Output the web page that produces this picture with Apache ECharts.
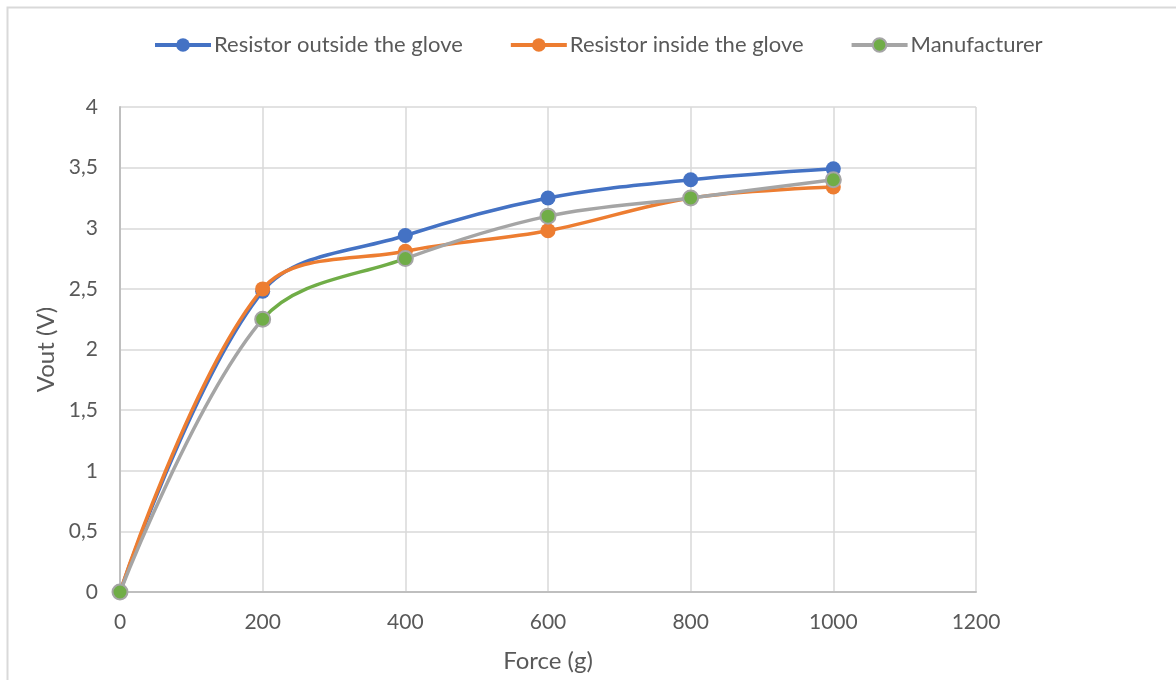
<!DOCTYPE html>
<html><head><meta charset="utf-8">
<script src="https://cdn.jsdelivr.net/npm/echarts@6/dist/echarts.min.js"></script>
<style>html,body{margin:0;padding:0;background:#fff}#c{width:1176px;height:680px}</style>
</head><body><div id="c"></div>
<script>
const forces = [0, 200, 400, 600, 800, 1000];
const outside = [0, 2.48, 2.94, 3.25, 3.40, 3.49];
const inside = [0, 2.50, 2.81, 2.98, 3.25, 3.34];
const manufacturer = [0, 2.25, 2.75, 3.10, 3.25, 3.40];
const names = ['Resistor outside the glove', 'Resistor inside the glove', 'Manufacturer'];

const BLUE = '#4472c4', ORANGE = '#ed7d31', GRAY = '#a5a5a5', GREEN = '#70ad47';
const pair = (ys) => forces.map((f, i) => [f, ys[i]]);
const font = 'Lato, "Noto Sans", sans-serif';
const chart = echarts.init(document.getElementById('c'));
chart.setOption({
  animation: false,
  graphic: [{type: 'rect', left: 5, top: 5, shape: {width: 1200, height: 700},
    style: {fill: 'none', stroke: '#d9d9d9', lineWidth: 2}, silent: true, z: -10}],
  legend: {
    top: 29, left: 148, itemGap: 46, itemWidth: 56, itemHeight: 17,
    textStyle: {fontFamily: font, fontSize: 22, color: '#595959', padding: [0, 0, 0, -2]},
    lineStyle: {width: 4},
    data: [
      {name: names[0], lineStyle: {width: 4}},
      {name: names[1], lineStyle: {width: 4}},
      {name: names[2], itemStyle: {color: GREEN, borderColor: GRAY, borderWidth: 2},
       lineStyle: {color: GRAY, width: 4}}
    ]
  },
  grid: {left: 120, right: 200, top: 107, bottom: 88},
  xAxis: {
    type: 'value', min: 0, max: 1200, interval: 200,
    name: 'Force (g)', nameLocation: 'middle', nameGap: 57,
    nameTextStyle: {fontFamily: font, fontSize: 24, color: '#595959'},
    axisLine: {show: true, lineStyle: {color: '#bfbfbf', width: 2}},
    axisTick: {show: false},
    axisLabel: {fontFamily: font, fontSize: 21, color: '#595959', margin: 20,
      formatter: v => String(v)},
    splitLine: {show: true, lineStyle: {color: '#d9d9d9', width: 1.5}}
  },
  yAxis: {
    type: 'value', min: 0, max: 4, interval: 0.5,
    name: 'Vout (V)', nameLocation: 'middle', nameGap: 60, nameRotate: 90,
    nameTextStyle: {fontFamily: font, fontSize: 24, color: '#595959'},
    axisLine: {show: true, lineStyle: {color: '#bfbfbf', width: 2}},
    axisTick: {show: false},
    axisLabel: {fontFamily: font, fontSize: 21, color: '#595959', margin: 22,
      formatter: v => String(v).replace('.', ',')},
    splitLine: {show: true, lineStyle: {color: '#d9d9d9', width: 1.5}}
  },
  visualMap: {
    show: false, type: 'piecewise', seriesIndex: 2, dimension: 0,
    pieces: [{gt: 200, lt: 400, color: GREEN}],
    outOfRange: {color: GRAY}
  },
  series: [
    {name: names[0], type: 'line', smooth: 0.35, data: pair(outside),
     symbol: 'circle', symbolSize: 15, z: 3,
     lineStyle: {color: BLUE, width: 3.5}, itemStyle: {color: BLUE}},
    {name: names[1], type: 'line', smooth: 0.35, data: pair(inside),
     symbol: 'circle', symbolSize: 15, z: 4,
     lineStyle: {color: ORANGE, width: 3.5}, itemStyle: {color: ORANGE}},
    {name: names[2], type: 'line', smooth: 0.35,
     data: pair(manufacturer).map(p => ({value: p,
       itemStyle: {color: GREEN, borderColor: GRAY, borderWidth: 2}})),
     symbol: 'circle', symbolSize: 15, z: 5,
     lineStyle: {width: 3.5},
     itemStyle: {color: GREEN, borderColor: GRAY, borderWidth: 2}}
  ]
});
</script></body></html>
